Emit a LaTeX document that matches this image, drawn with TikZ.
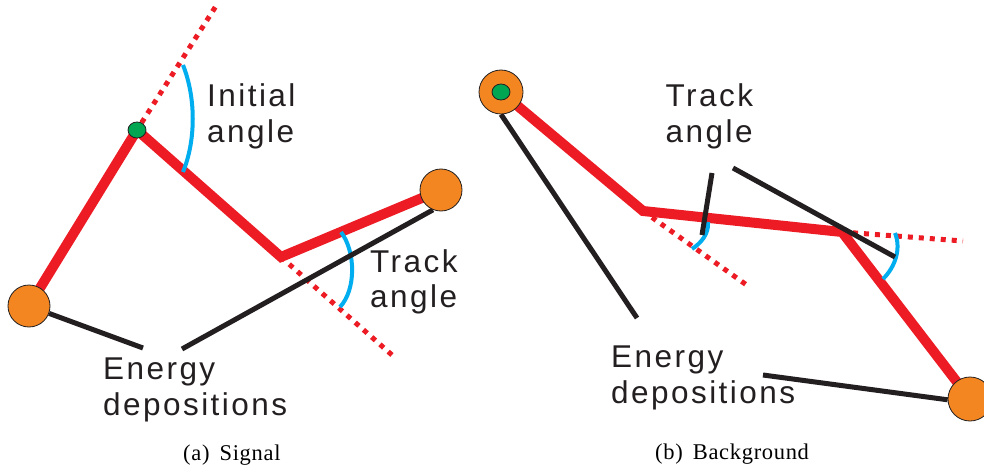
\documentclass[tikz,border=0pt]{standalone}
\usepackage{fontspec}
\usetikzlibrary{shapes.geometric}
\newfontfamily\labelfont{Liberation Sans}[LetterSpace=7.8]
\newfontfamily\capfont{Liberation Serif}[LetterSpace=3]
\definecolor{trkred}{RGB}{237,28,36}
\definecolor{dep}{RGB}{243,134,33}
\definecolor{vgreen}{RGB}{0,166,81}
\definecolor{angblue}{RGB}{0,174,239}
\definecolor{ink}{RGB}{35,31,32}
\pgfdeclarelayer{fg}
\pgfsetlayers{main,fg}
\begin{document}
\begin{tikzpicture}[x=1pt,y=-1pt,
  hit/.style={circle,draw=ink,line width=0.8pt,fill=dep,inner sep=0pt,minimum size=#1},
  vtx/.style={ellipse,draw=ink,line width=0.8pt,fill=vgreen,inner sep=0pt,minimum width=18pt,minimum height=16pt},
  track/.style={trkred,line width=10pt,line join=miter},
  ext/.style={trkred,line width=5pt,dash pattern=on 5pt off 6pt},
  ang/.style={angblue,line width=4pt},
  lead/.style={ink,line width=5pt},
  lbl/.style={anchor=base west,inner sep=0pt,text=ink,font=\labelfont\fontsize{31.5}{36}\selectfont},
  captext/.style={anchor=base west,inner sep=0pt,text=black,font=\capfont\fontsize{22.5}{26}\selectfont}]
\path[use as bounding box] (0,0) rectangle (984,473);

% ---- nodes (foreground) ----
\begin{pgfonlayer}{fg}
\node[hit=42pt] (A) at (29,306) {};
\node[hit=42pt] (B) at (441,190) {};
\node[vtx] (G) at (137,130) {};
\node[hit=44pt] (C) at (501,92) {};
\node[vtx] (G2) at (501,92) {};
\node[hit=44pt] (D) at (970,399) {};
\end{pgfonlayer}

\coordinate (V) at (281,257);
\coordinate (W1) at (643,211);
\coordinate (W2) at (842,232);
\coordinate (xa) at (216,6);
\coordinate (xb) at (392,355);
\coordinate (xc) at (748,286);
\coordinate (xd) at (963,241);
\coordinate (la) at (143,348);
\coordinate (lb) at (182,349);
\coordinate (lc) at (637,318);
\coordinate (ld1) at (712,173);
\coordinate (ld2) at (702,235);
\coordinate (le1) at (733,168);
\coordinate (le2) at (895,257);
\coordinate (lf) at (763,375);

% ---- dotted extensions ----
\draw[ext] (G) -- (xa);
\draw[ext] (V) -- (xb);
\draw[ext] (W1) -- (xc);
\draw[ext] (W2) -- (xd);

% ---- tracks ----
\draw[track] (A.center) -- (G.center) -- (V) -- (B.center);
\draw[track] (C.center) -- (W1) -- (W2) -- (D.center);

% ---- angle arcs ----
\draw[ang] (183,65) .. controls (196,98) and (196,140) .. (183,172);
\draw[ang] (341,232) .. controls (356,252) and (356,290) .. (340,307);
\draw[ang] (708,222) .. controls (709,234) and (701,243) .. (692,249);
\draw[ang] (895,233) .. controls (901,248) and (896,266) .. (883,279);

% ---- leader lines ----
\draw[lead] (A) -- (la);
\draw[lead] (lb) -- (B.248);
\draw[lead] (C.270) -- (lc);
\draw[lead] (ld1) -- (ld2);
\draw[lead] (le1) -- (le2);
\draw[lead] (lf) -- (D.182);

% ---- labels ----
\node[lbl] (ini1) at (207,106.5) {Initial};
\node[lbl] (ini2) at (207,143) {angle};
\node[lbl] (tra1) at (370,272) {Track};
\node[lbl] (tra2) at (370,307.5) {angle};
\node[lbl] (ena1) at (103,379) {Energy};
\node[lbl] (ena2) at (103,415) {depositions};
\node[lbl] (trb1) at (665.5,107) {Track};
\node[lbl] (trb2) at (665.5,143) {angle};
\node[lbl] (enb1) at (611,367) {Energy};
\node[lbl] (enb2) at (611,403) {depositions};

\node[captext] (capa) at (183,460) {(a)\hspace{0.45em}Signal};
\node[captext] (capb) at (655,459) {(b)\hspace{0.45em}Background};
\end{tikzpicture}
\end{document}
